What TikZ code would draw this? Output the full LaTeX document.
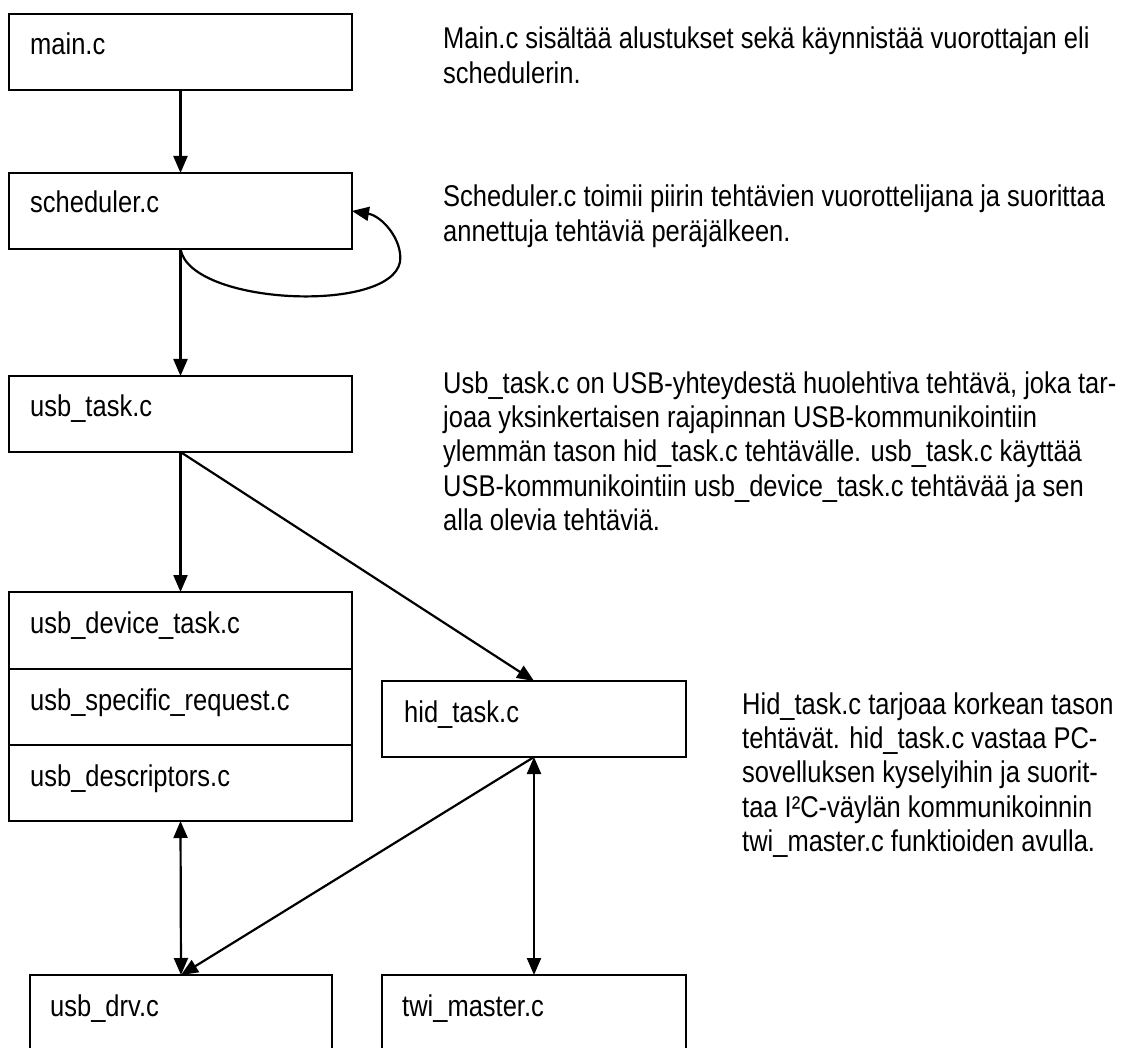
\documentclass[tikz,border=0pt]{standalone}
\usepackage{fontspec}
\setmainfont{Liberation Sans}[FakeStretch=0.85]
\usetikzlibrary{arrows.meta}
\newcommand\diafont{\fontsize{30}{34.4}\selectfont}
\begin{document}
\begin{tikzpicture}[x=1pt,y=-1pt,
  filebox/.style={draw=black, line width=1.3pt, minimum width=343pt,
    minimum height=76pt, anchor=north west, inner sep=0pt, outer sep=0pt},
  boxtext/.style={anchor=base west, inner sep=0pt, font=\diafont},
  desc/.style={anchor=base west, inner sep=0pt, font=\diafont},
  conn/.style={line width=2.2pt, -{Triangle[length=17pt,width=14pt]}},
  both/.style={line width=2.2pt, {Triangle[length=17pt,width=14pt]}-{Triangle[length=17pt,width=14pt]}}]

\useasboundingbox (0,0) rectangle (1127,1048);
\clip (0,0) rectangle (1127,1048);
\fill[white] (0,0) rectangle (1127,1048);

% source file boxes
\node[filebox] (mainf) at (9,14) {};
\node[boxtext] (mainf-t) at (30,55) {main.c};
\node[filebox] (sched) at (9,173) {};
\node[boxtext] (sched-t) at (30,213) {scheduler.c};
\node[filebox] (usbtask) at (9,376) {};
\node[boxtext] (usbtask-t) at (30,417) {usb\_task.c};

% USB device stack
\node[filebox, minimum height=77pt] (devtask) at (9,592) {};
\node[boxtext] (devtask-t) at (30,633) {usb\_device\_task.c};
\node[filebox] (specreq) at (9,669) {};
\node[boxtext] (specreq-t) at (30,710) {usb\_specific\_request.c};
\node[filebox] (descr) at (9,745) {};
\node[boxtext] (descr-t) at (30,786) {usb\_descriptors.c};

\node[filebox, minimum width=304pt] (hid) at (382,681) {};
\node[boxtext] (hid-t) at (404,722) {hid\_task.c};

% low level drivers
\node[filebox, minimum width=302pt, minimum height=90pt] (usbdrv) at (30,975) {};
\node[boxtext] (usbdrv-t) at (50,1016) {usb\_drv.c};
\node[filebox, minimum width=304pt, minimum height=90pt] (twi) at (382,975) {};
\node[boxtext] (twi-t) at (402,1016) {twi\_master.c};

% connectors
\draw[conn] (mainf.south) -- (sched.north);
\draw[conn] (sched.south) -- (usbtask.north);
\draw[conn] (sched.south) .. controls (190,305) and (390,314) .. (400,262)
  .. controls (403,240) and (382,216) .. (sched.east);
\draw[conn] (usbtask.south) -- (devtask.north);
\draw[conn] (usbtask.south) -- (hid.north);
\draw[both] (descr.south) -- (usbdrv.north);
\draw[both] (hid.south) -- (twi.north);
\draw[conn] (hid.south) -- (usbdrv.north);

% descriptions
\node[desc] (maindesc) at (443,49) {\parbox[t]{680pt}{Main.c sisältää alustukset sekä käynnistää vuorottajan eli\\schedulerin.}};
\node[desc] (scheddesc) at (443,207) {\parbox[t]{680pt}{Scheduler.c toimii piirin tehtävien vuorottelijana ja suorittaa\\annettuja tehtäviä peräjälkeen.}};
\node[desc] (usbdesc) at (443,393) {\parbox[t]{680pt}{Usb\_task.c on USB-yhteydestä huolehtiva tehtävä, joka tar-\\joaa yksinkertaisen rajapinnan USB-kommunikointiin\\ylemmän tason hid\_task.c tehtävälle. usb\_task.c käyttää\\USB-kommunikointiin usb\_device\_task.c tehtävää ja sen\\alla olevia tehtäviä.}};
\node[desc] (hiddesc) at (742,714) {\parbox[t]{380pt}{Hid\_task.c tarjoaa korkean tason\\tehtävät. hid\_task.c vastaa PC-\\sovelluksen kyselyihin ja suorit-\\taa I²C-väylän kommunikoinnin\\twi\_master.c funktioiden avulla.}};
\end{tikzpicture}
\end{document}
